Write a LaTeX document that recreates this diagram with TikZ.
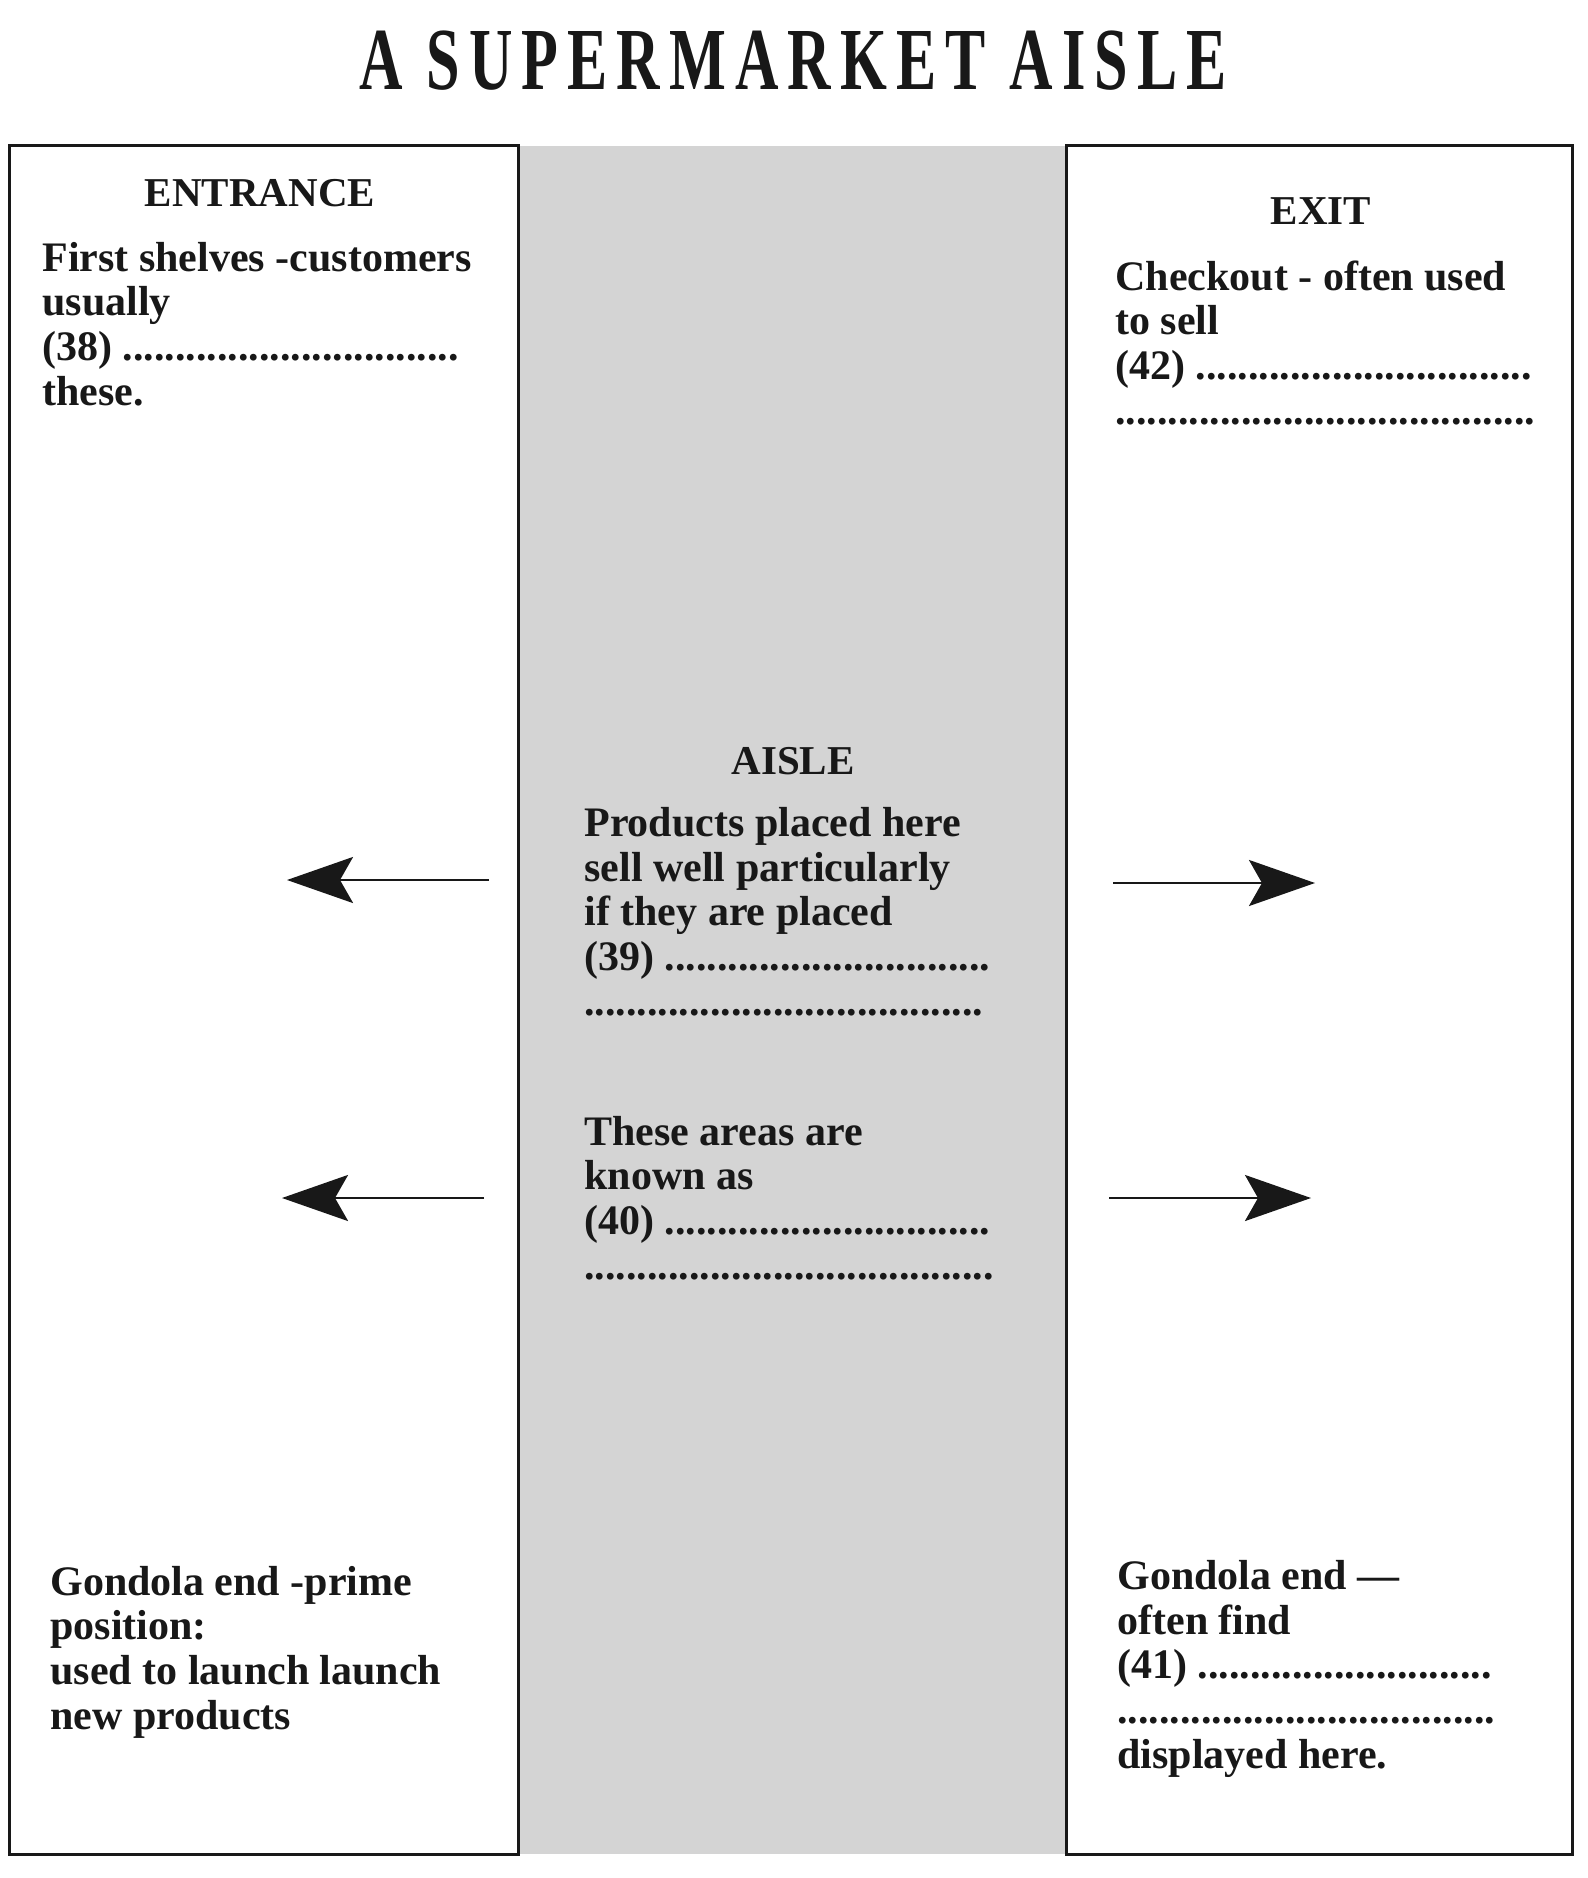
\documentclass[tikz,border=0pt]{standalone}
\usepackage{fontspec}
\setmainfont{Liberation Serif}
\usetikzlibrary{arrows.meta}
\definecolor{aislegray}{RGB}{212,212,212}
\definecolor{ink}{RGB}{24,24,24}
\begin{document}
\begin{tikzpicture}[x=0.5pt,y=-0.5pt,
  txt/.style={anchor=base west,inner sep=0pt,align=left,text=ink,
    font=\fontsize{21pt}{22.3pt}\selectfont\bfseries},
  head/.style={anchor=base,inner sep=0pt,text=ink,
    font=\fontsize{20.5pt}{22pt}\selectfont\bfseries},
  panel/.style={draw=ink,line width=1.5pt},
  pointer/.style={draw=ink,line width=1.3pt,
    -{Stealth[length=33pt,width=23pt,inset=6.5pt]}}]
\useasboundingbox (0,0) rectangle (1588,1878);
% aisle and panels
\fill[aislegray] (518.6,146) rectangle (1066,1854);
\draw[panel] (9.6,146) rectangle (518.6,1854);
\draw[panel] (1066,146) rectangle (1572,1854);
% title
\node[anchor=base,inner sep=0pt,text=ink] (title) at (793,90)
  {\scalebox{0.7}[1.03]{\fontsize{43pt}{46pt}\selectfont\bfseries\addfontfeatures{LetterSpace=15}A SUPERMARKET AISLE}};
% entrance (multi-line nodes: base = baseline of last line)
\node[head] (entrance) at (260,206) {ENTRANCE};
\node[txt] (first) at (42,405) {First shelves -customers\\usually\\(38) ................................\\these.};
% exit
\node[head] (exit) at (1321,225) {EXIT};
\node[txt] (checkout) at (1115,424) {Checkout - often used\\to sell\\(42) ................................\\........................................};
% aisle
\node[head] (aisle) at (793,774) {AISLE};
\node[txt] (products) at (584,1015) {Products placed here\\sell well particularly\\if they are placed\\(39) ...............................\\......................................};
\node[txt] (areas) at (584,1279) {These areas are\\known as\\(40) ...............................\\.......................................};
% gondola ends
\node[txt] (gondolaL) at (50,1729) {Gondola end -prime\\position:\\used to launch launch\\new products};
\node[txt] (gondolaR) at (1117,1768) {Gondola end —\\often find\\(41) ............................\\....................................\\displayed here.};
% arrows
\coordinate (a1s) at (489,880); \coordinate (a1e) at (287,880);
\coordinate (a2s) at (1113,883); \coordinate (a2e) at (1315,883);
\coordinate (a3s) at (484,1198); \coordinate (a3e) at (282,1198);
\coordinate (a4s) at (1109,1198); \coordinate (a4e) at (1311,1198);
\draw[pointer] (a1s) -- (a1e);
\draw[pointer] (a2s) -- (a2e);
\draw[pointer] (a3s) -- (a3e);
\draw[pointer] (a4s) -- (a4e);
\end{tikzpicture}
\end{document}
